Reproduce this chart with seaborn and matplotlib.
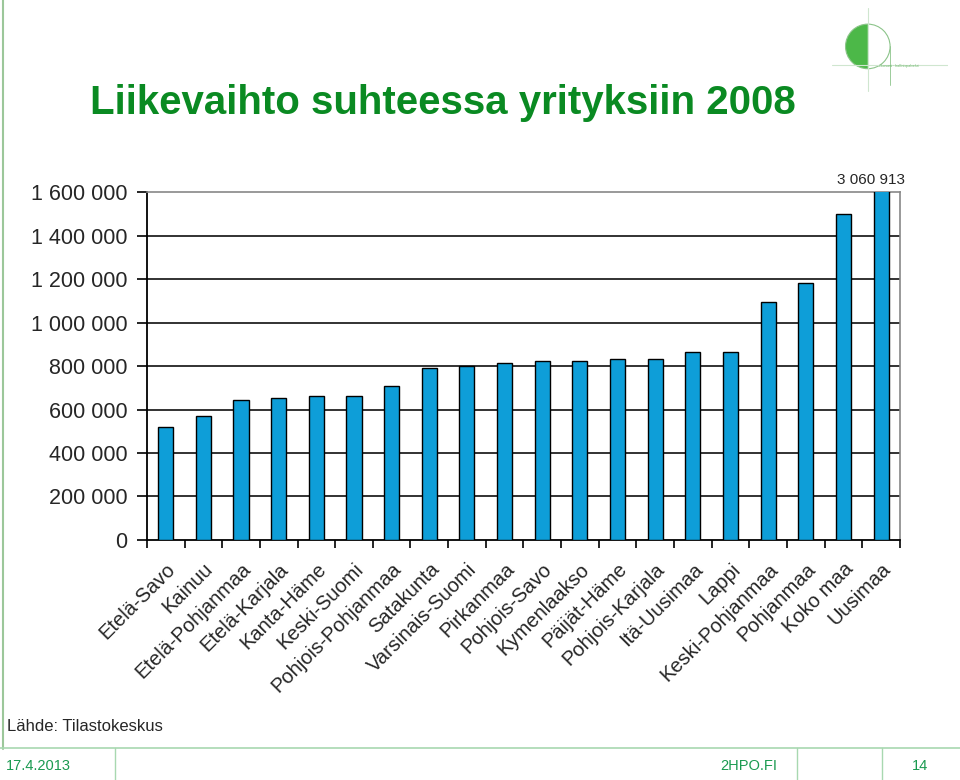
import numpy as np
import pandas as pd
import seaborn as sns
import matplotlib.pyplot as plt
from matplotlib.patches import Wedge, Circle

# Data (liikevaihto / yritys, 2008)
regions = ['Etelä-Savo', 'Kainuu', 'Etelä-Pohjanmaa', 'Etelä-Karjala', 'Kanta-Häme',
           'Keski-Suomi', 'Pohjois-Pohjanmaa', 'Satakunta', 'Varsinais-Suomi', 'Pirkanmaa',
           'Pohjois-Savo', 'Kymenlaakso', 'Päijät-Häme', 'Pohjois-Karjala', 'Itä-Uusimaa',
           'Lappi', 'Keski-Pohjanmaa', 'Pohjanmaa', 'Koko maa', 'Uusimaa']
turnover = [518000, 570000, 645000, 654000, 662000,
            662000, 708000, 789000, 799000, 814000,
            821000, 825000, 830000, 833000, 864000,
            864000, 1096000, 1183000, 1501000, 3060913]
yticks = [0, 200000, 400000, 600000, 800000, 1000000, 1200000, 1400000, 1600000]
ytick_labels = ['0', '200 000', '400 000', '600 000', '800 000',
                '1 000 000', '1 200 000', '1 400 000', '1 600 000']

df = pd.DataFrame({'alue': regions, 'liikevaihto': turnover})

sns.set_style('white')
plt.rcParams['font.family'] = ['Liberation Sans', 'DejaVu Sans']

fig = plt.figure(figsize=(9.6, 7.8), dpi=100)
ax = fig.add_axes([0.153, 0.3077, 0.7845, 0.4461])

sns.barplot(data=df, x='alue', y='liikevaihto', color='#0e9ed8', saturation=1,
            width=0.4, edgecolor='black', linewidth=1, ax=ax, zorder=3)

ax.set_ylim(0, 1600000)
ax.set_xlim(-0.5, len(regions) - 0.5)
ax.set_yticks(yticks)
ax.set_yticklabels(ytick_labels, fontsize=15.5)
ax.set_xlabel('')
ax.set_ylabel('')

# gridlines
for v in yticks[1:-1]:
    ax.axhline(v, color='#222222', lw=1.3, zorder=1)

for s in ['top', 'right']:
    ax.spines[s].set_color('#888888')
    ax.spines[s].set_linewidth(1.2)
for s in ['left', 'bottom']:
    ax.spines[s].set_color('black')
    ax.spines[s].set_linewidth(1.3)

ax.tick_params(axis='y', which='major', direction='out', length=7, width=1.2,
               color='black', left=True, pad=7)
ax.set_xticks(range(len(regions)))
ax.set_xticklabels(regions, rotation=45, ha='right', rotation_mode='anchor', fontsize=14.5)
ax.tick_params(axis='x', which='major', length=0, pad=14)
ax.set_xticks(np.arange(-0.5, len(regions), 1), minor=True)
ax.tick_params(axis='x', which='minor', direction='out', length=6, width=1.2,
               color='black', bottom=True)

# value label for the clipped bar
ax.text(len(regions) - 1 + 0.64, 1625000, '3 060 913', ha='right', va='bottom', fontsize=11)

# title
fig.text(0.094, 0.868, 'Liikevaihto suhteessa yrityksiin 2008', fontsize=29,
         fontweight='bold', color='#0a8a22', ha='left', va='center')

# source
fig.text(0.007, 0.069, 'Lähde: Tilastokeskus', fontsize=12, ha='left', va='center')

# frame decorations
green_line = '#a8d8b0'
fig.add_artist(plt.Line2D([0.003, 0.003], [0.04, 1.0], color='#9cc79a', lw=1.5))
fig.add_artist(plt.Line2D([0.0, 1.0], [0.041, 0.041], color=green_line, lw=1.2))
for xs in [0.12, 0.83, 0.919]:
    fig.add_artist(plt.Line2D([xs, xs], [0.0, 0.041], color=green_line, lw=1.0))
fig.text(0.006, 0.018, '17.4.2013', fontsize=10.5, color='#1a9a50', ha='left', va='center')
fig.text(0.75, 0.018, '2HPO.FI', fontsize=10.5, color='#1a9a50', ha='left', va='center')
fig.text(0.958, 0.018, '14', fontsize=10.5, color='#1a9a50', ha='center', va='center')

# logo
lax = fig.add_axes([0.862, 0.87, 0.125, 0.13])
lax.set_xlim(0, 140)
lax.set_ylim(0, 110)
lax.set_aspect('equal')
lax.axis('off')
lax.plot([47, 47], [8, 105], color='#cfe6cf', lw=0.8)
lax.plot([5, 140], [38, 38], color='#cfe6cf', lw=0.8)
lax.add_patch(Wedge((47, 60), 26, 90, 270, facecolor='#4cb848', edgecolor='none'))
lax.add_patch(Circle((47, 60), 26, facecolor='none', edgecolor='#8cc48a', lw=0.8))
lax.plot([73, 73], [15, 60], color='#8cc48a', lw=0.6)
lax.text(60, 37, 'ekonomi · hallintopalvelut', fontsize=2.5, color='#6fb86d', va='center')

fig.savefig('out.png', dpi=100)
